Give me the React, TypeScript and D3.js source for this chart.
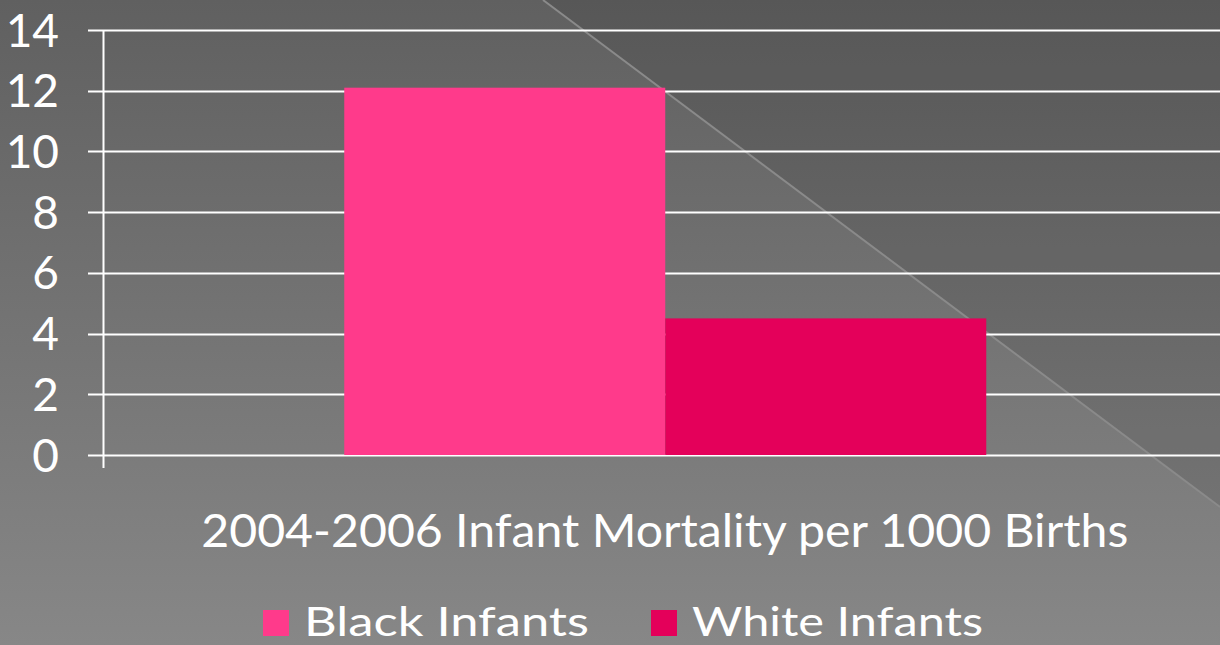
import * as React from 'react';
import * as d3 from 'd3';

const categories = ['2004-2006 Infant Mortality per 1000 Births'];
const seriesNames = ['Black Infants', 'White Infants'];
const seriesValues = [[12.1], [4.5]];
const seriesColors = ['#ff3a8b', '#e4005a'];
const yTicks = [0, 2, 4, 6, 8, 10, 12, 14];

const W = 1220;
const H = 645;
const margin = { top: 30, left: 103.5, right: -7, bottom: 190 };
const FONT = 'Lato, "Open Sans", "DejaVu Sans", sans-serif';

export default function App() {
    const plotBottom = H - margin.bottom;
    const y = d3.scaleLinear().domain([0, 14]).range([plotBottom, margin.top]);
    const x0 = d3.scaleBand<string>().domain(categories).range([margin.left, W - margin.right]);
    const x1 = d3.scaleBand<string>()
        .domain(seriesNames)
        .range([0, x0.bandwidth()])
        .paddingInner(0)
        .paddingOuter(0.75);

    // legend entries: swatch left edge and text width as measured on the picture
    const legendX = [263, 651];
    const legendTextW = [285, 291];

    return (
        <svg width={W} height={H} style={{ position: 'absolute', left: 0, top: 0, display: 'block' }}>
            <defs>
                <linearGradient id="bg" x1="0" y1="0" x2="0" y2="1">
                    <stop offset="0" stopColor="#606060" />
                    <stop offset="1" stopColor="#878787" />
                </linearGradient>
            </defs>
            <rect x={0} y={0} width={W} height={H} fill="url(#bg)" />
            {/* darker upper-right triangle and its light edge */}
            <polygon points={`543,0 ${W},0 ${W},507`} fill="#000" fillOpacity={0.09} />
            <line x1={543} y1={0} x2={W} y2={507} stroke="#8a8a8a" strokeWidth={2} />

            {/* gridlines */}
            {yTicks.map(t => (
                <line key={'g' + t} x1={88} x2={W} y1={Math.round(y(t)) + 0.5} y2={Math.round(y(t)) + 0.5}
                    stroke="#fff" strokeWidth={2} />
            ))}

            {/* bars */}
            {categories.map((c, ci) => (
                <g key={c} transform={`translate(${x0(c)},0)`}>
                    {seriesNames.map((s, si) => (
                        <rect key={s}
                            x={x1(s)}
                            width={x1.bandwidth()}
                            y={y(seriesValues[si][ci])}
                            height={plotBottom - y(seriesValues[si][ci])}
                            fill={seriesColors[si]} />
                    ))}
                </g>
            ))}

            {/* y axis */}
            <line x1={margin.left} x2={margin.left} y1={margin.top} y2={plotBottom + 13} stroke="#fff" strokeWidth={2} />
            {yTicks.map(t => (
                <text key={'t' + t} x={59} y={y(t)} dy="0.36em" textAnchor="end"
                    fill="#fff" fontFamily={FONT} fontSize={46}>{t}</text>
            ))}

            {/* category label */}
            {categories.map(c => (
                <text key={'c' + c} x={(x0(c) ?? 0) + x0.bandwidth() / 2 - 0.5} y={547} textAnchor="middle"
                    fill="#fff" fontFamily={FONT} fontSize={46}
                    textLength={927} lengthAdjust="spacingAndGlyphs">{c}</text>
            ))}

            {/* legend */}
            {seriesNames.map((s, i) => (
                <g key={'l' + s}>
                    <rect x={legendX[i]} y={610} width={26} height={26} fill={seriesColors[i]} />
                    <text x={legendX[i] + 41} y={636} fill="#fff" fontFamily={FONT} fontSize={41}
                        textLength={legendTextW[i]} lengthAdjust="spacingAndGlyphs">{s}</text>
                </g>
            ))}
        </svg>
    );
}
